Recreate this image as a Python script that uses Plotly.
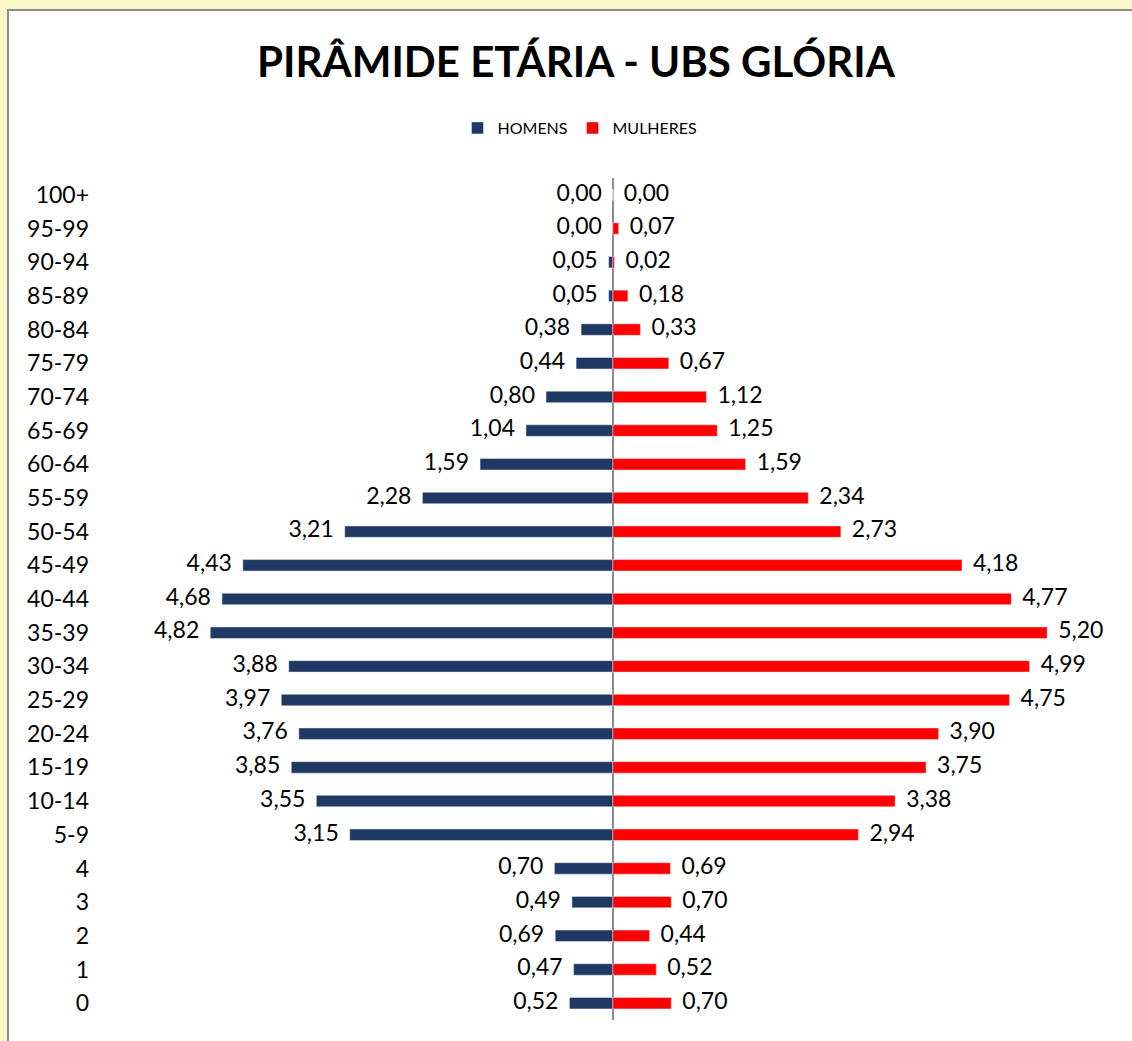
import plotly.graph_objects as go

categories = ["100+", "95-99", "90-94", "85-89", "80-84", "75-79", "70-74", "65-69",
              "60-64", "55-59", "50-54", "45-49", "40-44", "35-39", "30-34", "25-29",
              "20-24", "15-19", "10-14", "5-9", "4", "3", "2", "1", "0"]
homens = [0.00, 0.00, 0.05, 0.05, 0.38, 0.44, 0.80, 1.04, 1.59, 2.28, 3.21, 4.43, 4.68,
          4.82, 3.88, 3.97, 3.76, 3.85, 3.55, 3.15, 0.70, 0.49, 0.69, 0.47, 0.52]
mulheres = [0.00, 0.07, 0.02, 0.18, 0.33, 0.67, 1.12, 1.25, 1.59, 2.34, 2.73, 4.18, 4.77,
            5.20, 4.99, 4.75, 3.90, 3.75, 3.38, 2.94, 0.69, 0.70, 0.44, 0.52, 0.70]

NAVY = "#1F3864"
RED = "#FF0000"
PAGE = "#FBF7C8"
FONT = "Lato"

def fmt(v):
    return f"{v:.2f}".replace(".", ",")

fig = go.Figure()
fig.add_trace(go.Bar(y=categories, x=[-v for v in homens], orientation="h", name="HOMENS",
                     marker_color=NAVY, hoverinfo="skip"))
fig.add_trace(go.Bar(y=categories, x=mulheres, orientation="h", name="MULHERES",
                     marker_color=RED, hoverinfo="skip"))
fig.add_trace(go.Scatter(y=categories, x=[-v for v in homens], mode="markers+text",
                         text=[fmt(v) for v in homens], textposition="middle left",
                         marker=dict(size=16, opacity=0), showlegend=False,
                         textfont=dict(family=FONT, size=23, color="#000"), hoverinfo="skip"))
fig.add_trace(go.Scatter(y=categories, x=mulheres, mode="markers+text",
                         text=[fmt(v) for v in mulheres], textposition="middle right",
                         marker=dict(size=16, opacity=0), showlegend=False,
                         textfont=dict(family=FONT, size=23, color="#000"), hoverinfo="skip"))

fig.update_layout(
    width=1132, height=1041,
    paper_bgcolor=PAGE, plot_bgcolor="rgba(0,0,0,0)",
    barmode="overlay", bargap=0.66,
    margin=dict(l=95, r=18, t=178, b=21, autoexpand=False),
    font=dict(family=FONT, color="#000"),
    title=dict(text="<b>PIRÂMIDE ETÁRIA - UBS GLÓRIA</b>", x=576 / 1132, xanchor="center",
               xref="container", y=1 - 62 / 1041, yanchor="middle",
               font=dict(family=FONT, size=42, color="#000")),
    legend=dict(orientation="h", x=580 / 1132, xanchor="center", xref="container",
                y=1 - 128 / 1041, yref="container",
                yanchor="middle", font=dict(family=FONT, size=16), bgcolor="rgba(0,0,0,0)",
                itemwidth=30, traceorder="normal"),
    xaxis=dict(range=[-6.2, 6.0], showgrid=False, showticklabels=False, zeroline=True,
               zerolinecolor="#8C8C8C", zerolinewidth=2, fixedrange=True, automargin=False),
    yaxis=dict(categoryorder="array", categoryarray=categories[::-1], showgrid=False,
               range=[-0.5, len(categories) - 0.5], automargin=False,
               tickfont=dict(family=FONT, size=23), ticks="", ticklabelstandoff=5),
    shapes=[dict(type="rect", xref="paper", yref="paper", layer="below",
                 x0=(8 - 95) / (1132 - 113), x1=1.2, y0=-0.2,
                 y1=1 + (178 - 10) / (1041 - 199),
                 fillcolor="#FFFFFF", line=dict(color="#8C8C8C", width=2))],
)

fig.write_html(
    "out.html",
    config={"displayModeBar": False},
    post_script="document.body.style.margin='0';document.body.style.background='%s';" % PAGE,
)
